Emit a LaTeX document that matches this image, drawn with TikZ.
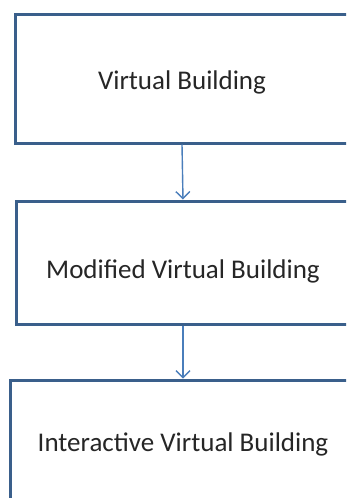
\documentclass[tikz,border=0pt]{standalone}
\usepackage{fontspec}
\setmainfont{Carlito}
\usetikzlibrary{arrows.meta}
\definecolor{boxline}{HTML}{3A5F8B}
\definecolor{arrowline}{HTML}{4A7EBB}
\tikzset{
  box/.style={draw=boxline, line width=3pt, rectangle, minimum width=334pt, inner sep=0pt, text depth=6pt, font=\fontsize{27}{32}\selectfont, text=black!85},
  flow/.style={draw=arrowline, line width=1.4pt, -{Straight Barb[length=7pt,width=14pt,line width=1.4pt]}}
}
\begin{document}
\begin{tikzpicture}[x=1pt,y=-1pt]
\useasboundingbox (0,0) rectangle (346,498);
\clip (0,0) rectangle (346,498);
\fill[white] (0,0) rectangle (346,498);
\node[box, minimum height=129pt, text height=28pt] (n1) at (182,78.5) {Virtual Building};
\node[box, minimum height=123pt, text height=37pt] (n2) at (183,262.5) {Modified Virtual Building};
\node[box, minimum width=346pt, minimum height=120pt, text height=29pt] (n3) at (183,440) {Interactive Virtual Building};
\draw[flow] (n1.south) -- (n2.north);
\draw[flow] (n2.south) -- (n3.north);
\end{tikzpicture}
\end{document}
